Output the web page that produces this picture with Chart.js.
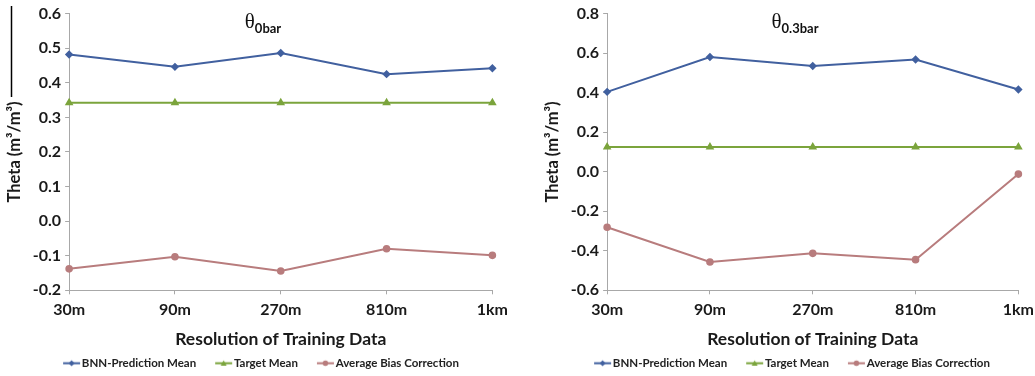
<!DOCTYPE html>
<html>
<head>
<meta charset="utf-8">
<script src="https://cdn.jsdelivr.net/npm/chart.js@4/dist/chart.umd.min.js"></script>
<style>
  html, body { margin: 0; padding: 0; background: #fff; overflow: hidden; }
  body { width: 1035px; height: 376px; position: relative; }
  .box { position: absolute; top: 0; height: 376px; }
  #leftBox { left: 0; width: 514px; }
  #rightBox { left: 538px; width: 502px; }
</style>
</head>
<body>
<div class="box" id="leftBox"><canvas id="chart0bar"></canvas></div>
<div class="box" id="rightBox"><canvas id="chart03bar"></canvas></div>
<script>
// Data
const categories = ['30m', '90m', '270m', '810m', '1km'];

const bnn0bar = [0.482, 0.446, 0.486, 0.425, 0.442];
const target0bar = [0.342, 0.342, 0.342, 0.342, 0.342];
const bias0bar = [-0.138, -0.103, -0.144, -0.080, -0.099];

const bnn03bar = [0.404, 0.580, 0.535, 0.568, 0.416];
const target03bar = [0.125, 0.125, 0.125, 0.125, 0.125];
const bias03bar = [-0.281, -0.457, -0.413, -0.445, -0.012];

const seriesNames = ['BNN-Prediction Mean', 'Target Mean', 'Average Bias Correction'];

const blue = '#41609f';
const green = '#7ba43c';
const rose = '#b87c7d';

const FONT = 'Lato, "Liberation Sans", sans-serif';

// legend icon: blank lead-in, then a short line with the marker on it
function legendIcon(color, style) {
    const c = document.createElement('canvas');
    c.width = 40;
    c.height = 9;
    const ctx = c.getContext('2d');
    ctx.strokeStyle = color;
    ctx.fillStyle = color;
    ctx.lineWidth = 2;
    ctx.beginPath();
    ctx.moveTo(22, 4.5);
    ctx.lineTo(39, 4.5);
    ctx.stroke();
    const cx = 30.5;
    ctx.beginPath();
    if (style === 'diamond') {
        ctx.moveTo(cx, 1.5); ctx.lineTo(cx + 3, 4.5); ctx.lineTo(cx, 7.5); ctx.lineTo(cx - 3, 4.5);
    } else if (style === 'triangle') {
        ctx.moveTo(cx, 1.5); ctx.lineTo(cx + 3, 7); ctx.lineTo(cx - 3, 7);
    } else {
        ctx.arc(cx, 4.5, 2.8, 0, Math.PI * 2);
    }
    ctx.closePath();
    ctx.fill();
    return c;
}

const icons = [legendIcon(blue, 'diamond'), legendIcon(green, 'triangle'), legendIcon(rose, 'circle')];

// θ with subscript, near the top of the canvas
function thetaTitle(sub, extraLine) {
    return {
        id: 'thetaTitle',
        afterDraw(chart) {
            const ctx = chart.ctx;
            ctx.save();
            ctx.fillStyle = '#111';
            ctx.textBaseline = 'alphabetic';
            ctx.font = '21px "Liberation Serif", "DejaVu Serif", serif';
            const w1 = ctx.measureText('θ').width;
            ctx.font = 'bold 13px ' + FONT;
            const w2 = ctx.measureText(sub).width;
            const x0 = chart.width / 2 + 6 - (w1 + w2) / 2;
            ctx.font = '21px "Liberation Serif", "DejaVu Serif", serif';
            ctx.fillText('θ', x0, 28);
            ctx.font = 'bold 13px ' + FONT;
            ctx.fillText(sub, x0 + w1, 33);
            if (extraLine) {
                ctx.strokeStyle = '#000';
                ctx.lineWidth = 1.5;
                ctx.beginPath();
                ctx.moveTo(11.5, 6);
                ctx.lineTo(11.5, 97);
                ctx.stroke();
            }
            ctx.restore();
        }
    };
}

function makeChart(id, bnn, target, bias, yMin, yMax, yStep, sub, extraLine, padRight) {
    const ctx = document.getElementById(id).getContext('2d');
    return new Chart(ctx, {
        type: 'line',
        data: {
            labels: categories,
            datasets: [{
                label: seriesNames[0],
                data: bnn,
                borderColor: blue,
                backgroundColor: blue,
                borderWidth: 2,
                pointStyle: 'rectRot',
                pointRadius: 2.8,
                tension: 0
            }, {
                label: seriesNames[1],
                data: target,
                borderColor: green,
                backgroundColor: green,
                borderWidth: 2,
                pointStyle: 'triangle',
                pointRadius: 3,
                tension: 0
            }, {
                label: seriesNames[2],
                data: bias,
                borderColor: rose,
                backgroundColor: rose,
                borderWidth: 2,
                pointStyle: 'circle',
                pointRadius: 2.8,
                tension: 0
            }]
        },
        options: {
            responsive: true,
            maintainAspectRatio: false,
            animation: false,
            layout: { padding: { top: 4, right: padRight, left: 5, bottom: -3 } },
            plugins: {
                title: { display: false },
                tooltip: { enabled: false },
                legend: {
                    position: 'bottom',
                    labels: {
                        usePointStyle: true,
                        pointStyleWidth: 30,
                        boxHeight: 9,
                        padding: 2,
                        color: '#222',
                        font: { family: FONT, size: 11.5, weight: 'bold' },
                        generateLabels(chart) {
                            return chart.data.datasets.map((ds, i) => ({
                                text: ds.label,
                                pointStyle: icons[i],
                                fillStyle: ds.borderColor,
                                strokeStyle: ds.borderColor,
                                lineWidth: 0,
                                fontColor: '#222',
                                hidden: false,
                                datasetIndex: i
                            }));
                        }
                    }
                }
            },
            scales: {
                x: {
                    offset: false,
                    border: { color: '#a8a8a8', width: 1 },
                    grid: { display: true, drawOnChartArea: false, drawTicks: true, tickLength: 4, color: '#a8a8a8' },
                    ticks: { color: '#1a1a1a', padding: 6, font: { family: FONT, size: 16, weight: 'bold' } },
                    title: {
                        display: true,
                        text: 'Resolution of Training Data',
                        color: '#1a1a1a',
                        padding: { top: 3, bottom: 6 },
                        font: { family: FONT, size: 17.5, weight: 'bold' }
                    }
                },
                y: {
                    min: yMin,
                    max: yMax,
                    border: { color: '#a8a8a8', width: 1 },
                    grid: { display: true, drawOnChartArea: false, drawTicks: true, tickLength: 4, color: '#a8a8a8' },
                    ticks: {
                        stepSize: yStep,
                        color: '#1a1a1a',
                        padding: 4,
                        font: { family: FONT, size: 16, weight: 'bold' },
                        callback: v => v.toFixed(1)
                    },
                    title: {
                        display: true,
                        text: 'Theta (m³/m³)',
                        color: '#1a1a1a',
                        padding: { top: 0, bottom: 4 },
                        font: { family: FONT, size: 16.5, weight: 'bold' }
                    }
                }
            }
        },
        plugins: [thetaTitle(sub, extraLine)]
    });
}

makeChart('chart0bar', bnn0bar, target0bar, bias0bar, -0.2, 0.6, 0.1, '0bar', true, 14);
makeChart('chart03bar', bnn03bar, target03bar, bias03bar, -0.6, 0.8, 0.2, '0.3bar', false, 16);
</script>
</body>
</html>
